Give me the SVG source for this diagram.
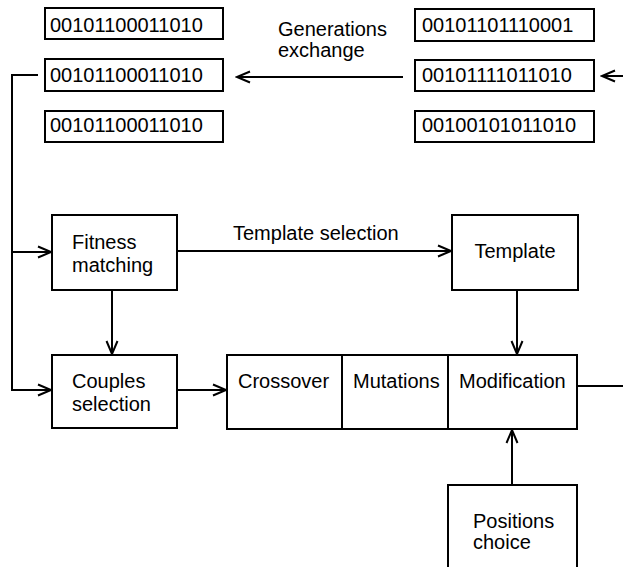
<svg xmlns="http://www.w3.org/2000/svg" width="623" height="567" viewBox="0 0 623 567">
<defs>
<style>
.b{fill:#fff;stroke:#000;stroke-width:2}
.t{font-family:"Liberation Sans",Arial,sans-serif;font-size:20px;fill:#000}
.c{fill:none;stroke:#000;stroke-width:2}
</style>
<marker id="a" markerUnits="userSpaceOnUse" markerWidth="16" markerHeight="14" viewBox="0 0 16 14" refX="14" refY="7" orient="auto">
<path d="M1,1.5 L14,7 L1,12.5" fill="none" stroke="#000" stroke-width="2"/>
</marker>
</defs>
<rect width="623" height="567" fill="#fff"/>
<g id="connectors">
<path class="c" d="M38,75 H12 V390 H51" marker-end="url(#a)"/>
<path class="c" d="M12,252 H51" marker-end="url(#a)"/>
<path class="c" d="M403,77 H237" marker-end="url(#a)"/>
<path class="c" d="M623,76 H602" marker-end="url(#a)"/>
<path class="c" d="M177,251 H451" marker-end="url(#a)"/>
<path class="c" d="M112,290 V354" marker-end="url(#a)"/>
<path class="c" d="M177,390 H226" marker-end="url(#a)"/>
<path class="c" d="M517,290 V354" marker-end="url(#a)"/>
<path class="c" d="M512,485 V430" marker-end="url(#a)"/>
<path class="c" d="M577,386 H623"/>
<text class="t" x="278" y="36">Generations</text>
<text class="t" x="278" y="57">exchange</text>
<text class="t" x="233" y="240">Template selection</text>
</g>
<g id="left1"><rect class="b" x="45" y="8" width="178" height="31"/><text class="t" x="50" y="32">00101100011010</text></g>
<g id="left2"><rect class="b" x="45" y="59" width="178" height="32"/><text class="t" x="50" y="82">00101100011010</text></g>
<g id="left3"><rect class="b" x="45" y="111" width="178" height="31"/><text class="t" x="50" y="132">00101100011010</text></g>
<g id="right1"><rect class="b" x="415" y="9" width="179" height="32"/><text class="t" x="422" y="32">00101101110001</text></g>
<g id="right2"><rect class="b" x="415" y="60" width="179" height="31"/><text class="t" x="422" y="82">00101111011010</text></g>
<g id="right3"><rect class="b" x="415" y="111" width="179" height="31"/><text class="t" x="422" y="132">00100101011010</text></g>
<g id="fitness"><rect class="b" x="52" y="215" width="125" height="75"/><text class="t" x="72" y="249">Fitness</text><text class="t" x="72" y="272">matching</text></g>
<g id="couples"><rect class="b" x="52" y="355" width="125" height="73"/><text class="t" x="72" y="388">Couples</text><text class="t" x="72" y="411">selection</text></g>
<g id="template"><rect class="b" x="452" y="215" width="126" height="75"/><text class="t" x="515" y="258" text-anchor="middle">Template</text></g>
<g id="crossover"><rect class="b" x="227" y="355" width="115" height="74"/><text class="t" x="238" y="388">Crossover</text></g>
<g id="mutations"><rect class="b" x="342" y="355" width="106" height="74"/><text class="t" x="353" y="388">Mutations</text></g>
<g id="modification"><rect class="b" x="448" y="355" width="129" height="74"/><text class="t" x="459" y="388">Modification</text></g>
<g id="positions"><rect class="b" x="448" y="485" width="129" height="100"/><text class="t" x="473" y="528">Positions</text><text class="t" x="473" y="549">choice</text></g>
</svg>
